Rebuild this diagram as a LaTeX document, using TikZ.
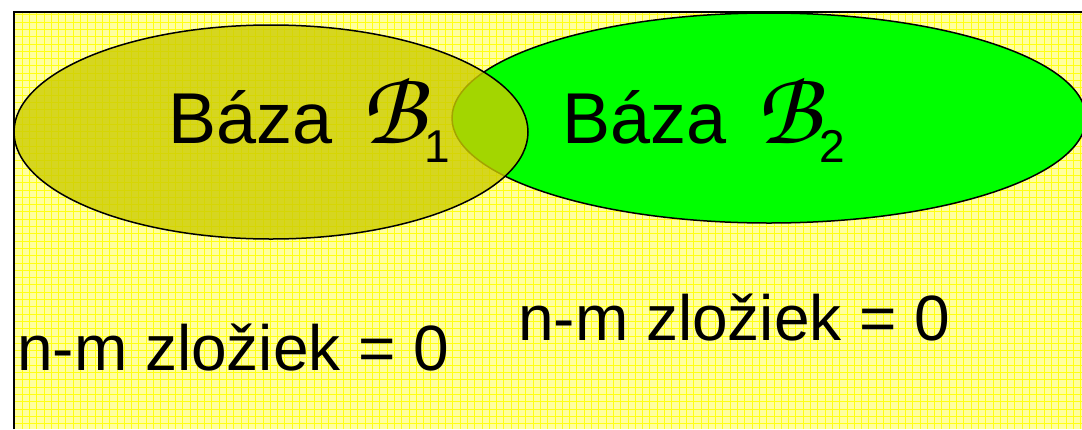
\documentclass[tikz,border=0pt]{standalone}
\usepackage{fontspec}
\setmainfont{Liberation Sans}
\usetikzlibrary{positioning, shapes.geometric}
\definecolor{bgyellow}{RGB}{255,255,160}
\definecolor{gridyellow}{RGB}{255,255,20}
\definecolor{baseolive}{RGB}{204,204,0}
\definecolor{basegreen}{RGB}{0,255,0}
\newcommand{\calB}{{\fontencoding{OT1}\fontfamily{pzc}\fontseries{mb}\fontshape{it}\fontsize{106}{106}\selectfont B}}
\newcommand{\idx}[1]{\raisebox{-19pt}{\fontsize{46}{46}\selectfont #1}}

\begin{document}
\begin{tikzpicture}[
  x=1pt, y=-1pt,
  basis/.style={ellipse, draw=black, line width=1.5pt, inner sep=0pt},
  basetxt/.style={anchor=base west, inner sep=0pt, font=\fontsize{72}{72}\selectfont},
  countlbl/.style={anchor=base west, inner sep=0pt, font=\fontsize{64}{64}\selectfont},
]
  % --- paper with grid ---
  \useasboundingbox (0,0) rectangle (1082,429);
  \fill[white] (0,0) rectangle (1082,429);
  \fill[bgyellow] (14,12) rectangle (1082,429);
  \draw[gridyellow, line width=0.6pt, step=7.3pt] (14,12) grid (1082,429);

  % --- the two bases ---
  \node[basis, fill=basegreen, minimum width=634pt, minimum height=210pt] (baza2) at (769,118) {};
  \node[basis, fill=baseolive, fill opacity=0.8, minimum width=514pt, minimum height=214pt] (baza1) at (271,132) {};

  \node[basetxt] (txt1) at (168,143) {Báza \hspace{9pt}\calB\idx{1}};
  \node[basetxt] (txt2) at (562,143) {Báza \hspace{10pt}\calB\idx{2}};

  % --- zero components ---
  \node[countlbl] (zero1) at (17,370) {n-m zložiek = 0};
  \node[countlbl] (zero2) at (518,340) {n-m zložiek = 0};

  % frame
  \draw[line width=2pt] (14,429) -- (14,12) -- (1082,12);
\end{tikzpicture}
\end{document}
